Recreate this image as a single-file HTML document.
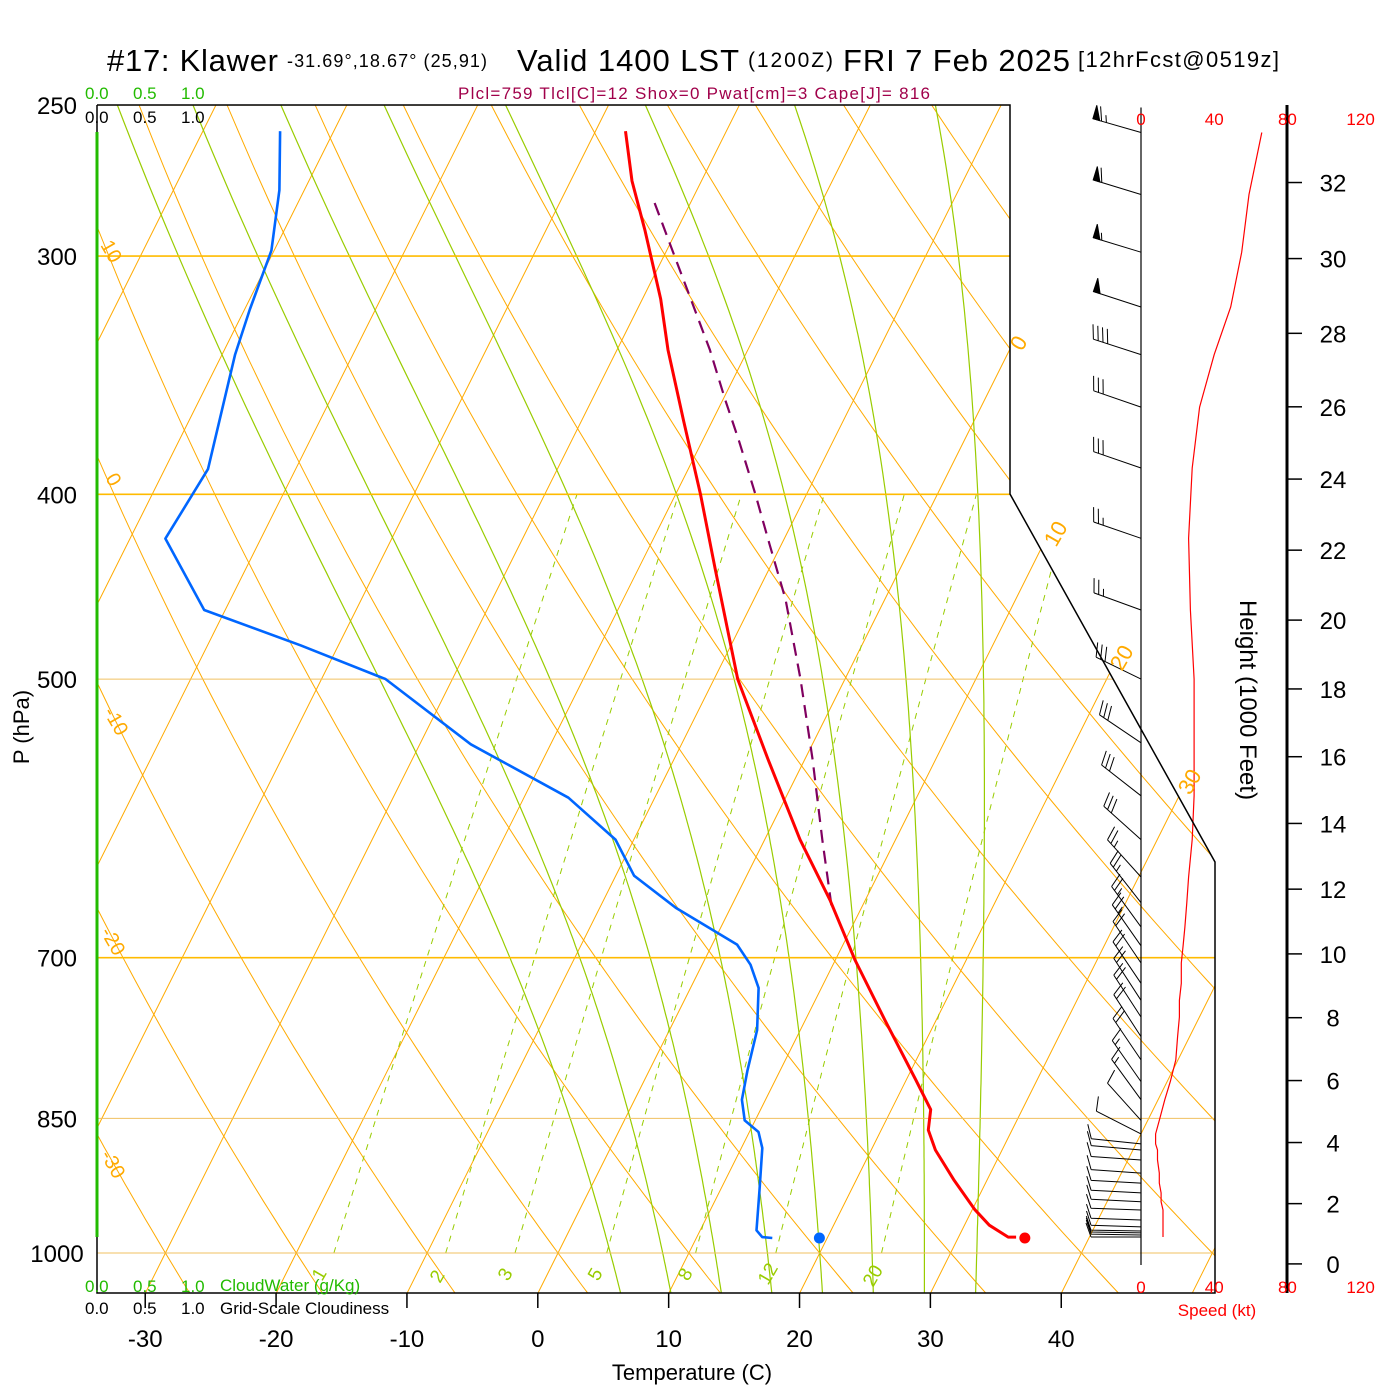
<!DOCTYPE html>
<html><head><meta charset="utf-8"><title>Skew-T Klawer</title>
<style>
html,body{margin:0;padding:0;background:#fff;}
svg{display:block;font-family:"Liberation Sans",Arial,sans-serif;}
</style></head>
<body>
<svg id="chart" width="1400" height="1400" viewBox="0 0 1400 1400" xmlns="http://www.w3.org/2000/svg">
<defs><clipPath id="plotclip"><polygon points="97,105 1010,105 1010,494 1215,862 1215,1293 97,1293"/></clipPath></defs>
<rect x="0" y="0" width="1400" height="1400" fill="#fff"/>
<g id="bg" clip-path="url(#plotclip)"></g>
<g id="fg" clip-path="url(#plotclip)"></g>
<g id="wind"></g>
<g id="axes"></g>

<text x="107" y="71" font-size="31" textLength="171">#17: Klawer</text>
<text x="287" y="67" font-size="18" textLength="200">-31.69°,18.67° (25,91)</text>
<text x="517" y="71" font-size="31" textLength="222">Valid 1400 LST</text>
<text x="748" y="67" font-size="21" textLength="85">(1200Z)</text>
<text x="843" y="71" font-size="31" textLength="227">FRI 7 Feb 2025</text>
<text x="1078" y="67" font-size="22" textLength="201">[12hrFcst@0519z]</text>
<text x="458" y="99" font-size="17" fill="#a0004a" textLength="472">Plcl=759 Tlcl[C]=12 Shox=0 Pwat[cm]=3 Cape[J]= 816</text>

<g font-size="17" fill="#22bb00">
<text x="85" y="99">0.0</text><text x="133" y="99">0.5</text><text x="181" y="99">1.0</text></g>
<g font-size="17" fill="#000">
<text x="85" y="123">0.0</text><text x="133" y="123">0.5</text><text x="181" y="123">1.0</text></g>
<g font-size="17" fill="#22bb00">
<text x="85" y="1292">0.0</text><text x="133" y="1292">0.5</text><text x="181" y="1292">1.0</text><text x="220" y="1291">CloudWater (g/Kg)</text></g>
<g font-size="17" fill="#000">
<text x="85" y="1314">0.0</text><text x="133" y="1314">0.5</text><text x="181" y="1314">1.0</text><text x="220" y="1314">Grid-Scale Cloudiness</text></g>

<text x="692" y="1380" font-size="22" text-anchor="middle">Temperature (C)</text>
<text x="0" y="0" font-size="22" text-anchor="middle" transform="translate(29,727) rotate(-90)">P (hPa)</text>
<text x="0" y="0" font-size="24" text-anchor="middle" transform="translate(1240,700) rotate(90)">Height (1000 Feet)</text>
<text x="1217" y="1316" font-size="17" fill="#ff0000" text-anchor="middle">Speed (kt)</text>

<g font-size="20" fill="#ffaa00">
<text transform="translate(100,245) rotate(60)">10</text>
<text transform="translate(105,478) rotate(60)">0</text>
<text transform="translate(103,712) rotate(60)">-10</text>
<text transform="translate(100,932) rotate(60)">-20</text>
<text transform="translate(100,1155) rotate(60)">-30</text>
</g>
<g font-size="22" fill="#ffaa00">
<text transform="translate(1022,352) rotate(-60)">0</text>
<text transform="translate(1056,548) rotate(-60)">10</text>
<text transform="translate(1122,672) rotate(-60)">20</text>
<text transform="translate(1190,796) rotate(-60)">30</text>
</g>
<g font-size="19" fill="#99cc00">
<text transform="translate(322,1282) rotate(-60)">1</text>
<text transform="translate(440,1284) rotate(-60)">2</text>
<text transform="translate(508,1282) rotate(-60)">3</text>
<text transform="translate(598,1282) rotate(-60)">5</text>
<text transform="translate(688,1282) rotate(-60)">8</text>
<text transform="translate(768,1286) rotate(-60)">12</text>
<text transform="translate(873,1288) rotate(-60)">20</text>
</g>
</svg>
<script>
// ---------- data ----------
const tempP = [258,274,291,316,336,366,400,438,500,551,607,653,702,755,811,841,862,883,916,949,967,981,981];
const tempT = [-37.7,-35.3,-32.4,-28.6,-26.1,-22.2,-18.1,-14.1,-8.2,-2.8,2.7,7.3,11.5,16.1,20.7,23.0,23.6,24.9,27.5,30.2,31.9,33.8,34.4];
const dewP = [258,277,298,320,338,361,388,422,460,480,500,541,577,607,634,659,689,706,726,764,802,831,852,864,881,927,973,981,982];
const dewT = [-64.1,-61.9,-60.2,-59.6,-59.0,-57.9,-56.7,-57.3,-51.6,-42.9,-35.1,-26.1,-16.6,-11.4,-8.6,-4.2,1.9,3.7,5.2,6.7,7.5,8.2,9.2,10.7,11.6,13.0,14.3,15.0,15.8];
const parcelP = [657,607,551,500,454,425,400,375,357,336,316,301,279];
const parcelT = [7.6,4.4,0.6,-3.4,-7.6,-10.9,-13.9,-17.2,-19.8,-22.9,-26.3,-29.0,-33.2];
const sfcP = 982;
const sfcT = 35.1;
const sfcTd = 19.4;
const windP = [258.4,278.5,298.6,319,337.9,360,387.5,421.8,460,500,540,575.7,607,635,655,674.5,690,704.5,722,737,752,770,792,813,831,852,866,876.6,883,893.8,908,919,930,940,949.4,960.9,969,973.8,976,978.5,980.9];
const windDir = [286,287,287,288,288,289,289,289,290,296,304,308,312,318,322,324,325,326,326,327,327,327,326,325,324,318,297,276,275,274,274,273,273,273,272,272,272,271,271,271,270];
const windSpd = [66,59,55,49,40,32,28,26,27,29,29,29,28,26,25,24,23,22,22,21,21,20,19,16,13,10,8,8,9,9,10,10,11,11,12,12,12,12,12,12,12];
const isobarLevels = [250,300,400,500,700,850,1000];
const tempTicks = [-30,-20,-10,0,10,20,30,40];
const heightTicks = [0,2,4,6,8,10,12,14,16,18,20,22,24,26,28,30,32];
const speedTicks = [0,40,80,120];
const mixRatios = [1,2,3,5,8,12,20];
const thetaWs = [4,8,12,16,20,24,28,32];

// ---------- axes functions ----------
const NS = 'http://www.w3.org/2000/svg';
function yP(p){ return 1253 - 828*Math.log(1000/p); }
function xT(T,p){ return 538 + 13.086*T + 0.5*(1293 - yP(p)); }
function xSpd(s){ return 1141 + 1.83*s; }
function mk(tag, attrs, parent){
  const el = document.createElementNS(NS, tag);
  for (const k in attrs) el.setAttribute(k, attrs[k]);
  parent.appendChild(el);
  return el;
}
function pathFrom(ps, ts){
  let d='';
  for(let i=0;i<ps.length;i++){ d += (i?'L':'M') + xT(ts[i],ps[i]).toFixed(1)+','+yP(ps[i]).toFixed(1); }
  return d;
}
const bg = document.getElementById('bg');
const fg = document.getElementById('fg');
const wind = document.getElementById('wind');
const axes = document.getElementById('axes');
const ORANGE = '#ffaa00', GREEN = '#99cc00';

// isotherms
for (let T=-120; T<=50; T+=10){
  const el = mk('line',{x1:xT(T,1050),y1:yP(1050),x2:xT(T,250),y2:yP(250),stroke:ORANGE,'stroke-width':1},bg);
  
  
}
// dry adiabats
for (let th=-30; th<=170; th+=10){
  let d='';
  for (let p=1050; p>=250; p-=10){
    const T=(th+273.15)*Math.pow(p/1000,0.2857)-273.15;
    d += (p===1050?'M':'L')+xT(T,p).toFixed(1)+','+yP(p).toFixed(1);
  }
  const el = mk('path',{d:d,fill:'none',stroke:ORANGE,'stroke-width':1},bg);
  
  
}
// moist adiabats
function esat(Tc){ return 6.112*Math.exp(17.67*Tc/(Tc+243.5)); }
function dTdlnp(TK,p){
  const es=esat(TK-273.15); const rs=0.622*es/(p-es);
  const Lv=2.501e6;
  return (287*TK + Lv*rs)/(1004 + Lv*Lv*rs*0.622/(287*TK*TK));
}
for (const tw of thetaWs){
  const pts=[];
  let T=tw+273.15, p=1000;
  pts.push([p,T]);
  let Td=T, pd=1000;
  const down=[];
  while(pd<1050){ const dl=Math.log((pd+5)/pd); const k1=dTdlnp(Td,pd); const k2=dTdlnp(Td+k1*dl,pd+5); Td+=0.5*(k1+k2)*dl; pd+=5; down.push([pd,Td]); }
  while(p>250){ const dl=Math.log((p-5)/p); const k1=dTdlnp(T,p); const k2=dTdlnp(T+k1*dl,p-5); T+=0.5*(k1+k2)*dl; p-=5; pts.push([p,T]); }
  const all=down.reverse().concat(pts);
  let d='';
  all.forEach((q,i)=>{ d+=(i?'L':'M')+xT(q[1]-273.15,q[0]).toFixed(1)+','+yP(q[0]).toFixed(1); });
  const el = mk('path',{d:d,fill:'none',stroke:GREEN,'stroke-width':1.2},bg);
  
  
}
// mixing ratio lines
for (const w of mixRatios){
  let d='';
  for (let p=1000; p>=400; p-=10){
    const e=(w/1000)*p/(0.622+w/1000); const l=Math.log(e/6.112);
    const Td=243.5*l/(17.67-l);
    d += (p===1000?'M':'L')+xT(Td,p).toFixed(1)+','+yP(p).toFixed(1);
  }
  const el = mk('path',{d:d,fill:'none',stroke:GREEN,'stroke-width':1,'stroke-dasharray':'6,6'},bg);
  
  
}
// isobars
for (const p of isobarLevels){
  const strong=(p===300||p===400||p===700);
  const el = mk('line',{x1:97,y1:yP(p),x2:1215,y2:yP(p),stroke:strong?'#ffbb00':'#f0c060','stroke-width':strong?1.6:1},bg);
  
  
  const t = mk('text',{x:57,y:yP(p)+9,'font-size':24,'text-anchor':'middle'},axes);
  t.textContent=p;
  
  
}
// traces
let el;
el = mk('path',{d:pathFrom(parcelP,parcelT),fill:'none',stroke:'#800060','stroke-width':2.2,'stroke-dasharray':'13,8'},fg);


el = mk('path',{d:pathFrom(tempP,tempT),fill:'none',stroke:'#ff0000','stroke-width':3,'stroke-linejoin':'round'},fg);


el = mk('path',{d:pathFrom(dewP,dewT),fill:'none',stroke:'#0066ff','stroke-width':2.6,'stroke-linejoin':'round'},fg);


el = mk('circle',{cx:xT(sfcT,sfcP),cy:yP(sfcP),r:5.5,fill:'#ff0000'},fg);


el = mk('circle',{cx:xT(sfcTd,sfcP),cy:yP(sfcP),r:5.5,fill:'#0066ff'},fg);



// frame
el = mk('polyline',{points:'97,105 1010,105 1010,494 1215,862 1215,1293 97,1293 97,105',fill:'none',stroke:'#000','stroke-width':1.5},axes);


el = mk('line',{x1:97,y1:132,x2:97,y2:1237,stroke:'#22bb00','stroke-width':3},axes);


for (const T of tempTicks){
  const x=xT(T,1050);
  const tk = mk('line',{x1:x,y1:1293,x2:x,y2:1308,stroke:'#000','stroke-width':1.5},axes);
  
  
  const t = mk('text',{x:x,y:1347,'font-size':24,'text-anchor':'middle'},axes);
  t.textContent=T;
  
  
}
// height axis
el = mk('line',{x1:1287,y1:105,x2:1287,y2:1293,stroke:'#000','stroke-width':3},axes);


for (const h of heightTicks){
  const p=1013.25*Math.pow(1-2.25577e-5*h*304.8,5.25588);
  const y=yP(p);
  const tk = mk('line',{x1:1287,y1:y,x2:1302,y2:y,stroke:'#000','stroke-width':1.5},axes);
  
  
  const t = mk('text',{x:1333,y:y+9,'font-size':24,'text-anchor':'middle'},axes);
  t.textContent=h;
  
  
}
// speed axis labels
for (const s of speedTicks){
  const t1 = mk('text',{x:xSpd(s),y:125,'font-size':17,'text-anchor':'middle',fill:'#ff0000'},axes);
  t1.textContent=s;
  
  
  const t2 = mk('text',{x:xSpd(s),y:1293,'font-size':17,'text-anchor':'middle',fill:'#ff0000'},axes);
  t2.textContent=s;
  
  
}
// wind staff axis
el = mk('line',{x1:1141,y1:yP(windP[0])-25,x2:1141,y2:1265,stroke:'#000','stroke-width':1.2},wind);


// speed profile
let sd='';
windP.forEach((p,i)=>{ sd+=(i?'L':'M')+xSpd(windSpd[i]).toFixed(1)+','+yP(p).toFixed(1); });
el = mk('path',{d:sd,fill:'none',stroke:'#ff0000','stroke-width':1.2},wind);


// barbs
windP.forEach((p,i)=>{
  const bx=1141, by=yP(p);
  const a=windDir[i]*Math.PI/180;
  const ux=Math.sin(a), uy=-Math.cos(a);
  const L=50;
  const tx=bx+ux*L, ty=by+uy*L;
  const px=uy, py=-ux;
  const pxx = (py>0)?-px:px, pyy=(py>0)?-py:py;
  let d='M'+bx+','+by.toFixed(1)+'L'+tx.toFixed(1)+','+ty.toFixed(1);
  let s=Math.round(windSpd[i]/5)*5;
  let pos=0;
  let fills='';
  while(s>=50){
    const ax=tx-ux*pos, ay=ty-uy*pos, cx=tx-ux*(pos+7), cy=ty-uy*(pos+7);
    fills+='M'+ax.toFixed(1)+','+ay.toFixed(1)+'L'+(ax+pxx*14).toFixed(1)+','+(ay+pyy*14).toFixed(1)+'L'+cx.toFixed(1)+','+cy.toFixed(1)+'Z';
    pos+=9; s-=50;
  }
  while(s>=10){
    const ax=tx-ux*pos, ay=ty-uy*pos;
    d+='M'+ax.toFixed(1)+','+ay.toFixed(1)+'L'+(ax+pxx*14+ux*5).toFixed(1)+','+(ay+pyy*14+uy*5).toFixed(1);
    pos+=5; s-=10;
  }
  if(s>=5){
    if(pos===0) pos=5;
    const ax=tx-ux*pos, ay=ty-uy*pos;
    d+='M'+ax.toFixed(1)+','+ay.toFixed(1)+'L'+(ax+pxx*7+ux*2.5).toFixed(1)+','+(ay+pyy*7+uy*2.5).toFixed(1);
  }
  const b = mk('path',{d:d,fill:'none',stroke:'#000','stroke-width':1},wind);
  
  
  if(fills){
    const f = mk('path',{d:fills,fill:'#000',stroke:'#000','stroke-width':1},wind);
    
    
  }
});
</script>
</body></html>
